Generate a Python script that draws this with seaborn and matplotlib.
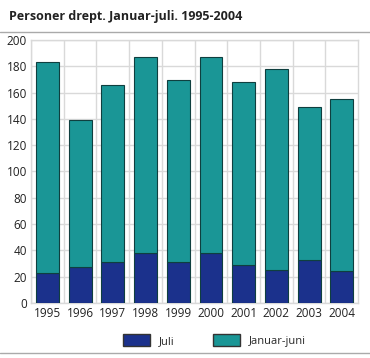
import numpy as np
import pandas as pd
import seaborn as sns
import matplotlib.pyplot as plt
from matplotlib.patches import Patch
from matplotlib.lines import Line2D

years = ["1995", "1996", "1997", "1998", "1999", "2000", "2001", "2002", "2003", "2004"]
juli = [23, 27, 31, 38, 31, 38, 29, 25, 33, 24]
januar_juni = [160, 112, 135, 149, 139, 149, 139, 153, 116, 131]

df = pd.DataFrame({"aar": years, "Juli": juli, "Januar-juni": januar_juni})

blue = "#1b318c"
teal = "#1a9696"
edge = "#0f3f3f"

sns.set_style("white")
plt.rcParams["font.family"] = ["Open Sans", "DejaVu Sans"]

fig = plt.figure(figsize=(3.7, 3.58), dpi=100)
ax = fig.add_axes([0.084, 0.154, 0.884, 0.734])

# stablede søyler: juli nederst, januar-juni oppå
sns.barplot(data=df, x="aar", y="Juli", color=blue, width=0.7,
            edgecolor=edge, linewidth=0.8, saturation=1, ax=ax, zorder=3)
sns.barplot(data=df, x="aar", y="Januar-juni", bottom=df["Juli"], color=teal,
            width=0.7, edgecolor=edge, linewidth=0.8, saturation=1, ax=ax, zorder=3)

ax.set_ylim(0, 200)
ax.set_xlim(-0.5, len(years) - 0.5)
ax.set_yticks(range(0, 201, 20))
ax.set_xticks(np.arange(len(years)) - 0.5, minor=True)
ax.grid(True, axis="y", which="major", color="#d9d9d9", linewidth=1, zorder=0)
ax.grid(True, axis="x", which="minor", color="#d9d9d9", linewidth=1, zorder=0)
ax.grid(False, axis="x", which="major")
ax.tick_params(axis="both", which="both", length=0, labelsize=8.5, colors="#222222", pad=3)
ax.set_xlabel("")
ax.set_ylabel("")
for s in ax.spines.values():
    s.set_color("#d9d9d9")
    s.set_linewidth(1)

fig.text(0.025, 0.955, "Personer drept. Januar-juli. 1995-2004", fontsize=9,
         fontweight="bold", color="#222222", va="center")
fig.add_artist(Line2D([0, 1], [0.912, 0.912], color="#aaaaaa", linewidth=1))
fig.add_artist(Line2D([0, 1], [0.014, 0.014], color="#aaaaaa", linewidth=1))

handles = [Patch(facecolor=blue, edgecolor="#333333", label="Juli"),
           Patch(facecolor=teal, edgecolor="#333333", label="Januar-juni")]
fig.legend(handles=handles, loc="center", bbox_to_anchor=(0.58, 0.05), ncol=2,
           frameon=False, fontsize=8, handlelength=2.4, handleheight=1.4,
           columnspacing=3.5, handletextpad=0.8)

fig.savefig("out.png", dpi=100)
